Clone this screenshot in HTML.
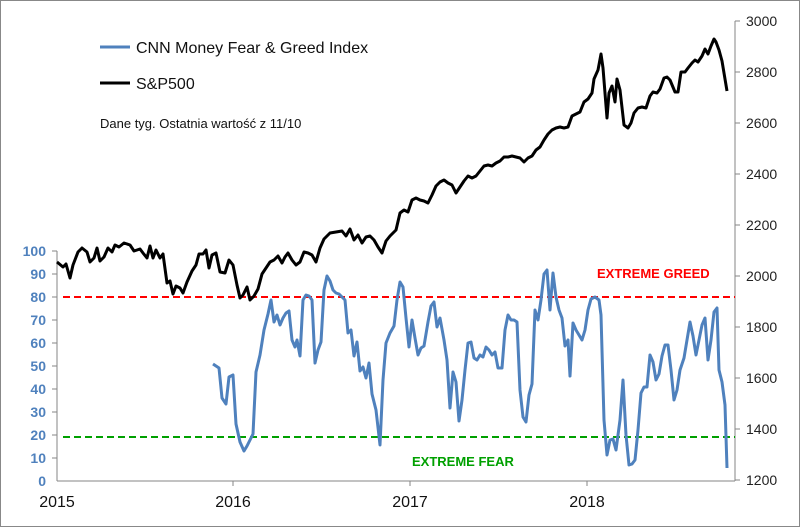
<!DOCTYPE html>
<html><head><meta charset="utf-8"><style>body{margin:0;background:#fff}svg{display:block}text{font-family:"Liberation Sans",sans-serif}</style></head><body>
<svg width="800" height="527" viewBox="0 0 800 527" xmlns="http://www.w3.org/2000/svg">
<rect x="0.5" y="0.5" width="799" height="526" fill="#fff" stroke="#888"/>
<g stroke="#868686" stroke-width="1">
<line x1="57" y1="251" x2="57" y2="481"/><line x1="57" y1="481" x2="735" y2="481"/>
<line x1="735" y1="21" x2="735" y2="481"/>
<g><line x1="52" y1="251" x2="57" y2="251"/><line x1="52" y1="274" x2="57" y2="274"/><line x1="52" y1="297" x2="57" y2="297"/><line x1="52" y1="320" x2="57" y2="320"/><line x1="52" y1="343" x2="57" y2="343"/><line x1="52" y1="366" x2="57" y2="366"/><line x1="52" y1="389" x2="57" y2="389"/><line x1="52" y1="412" x2="57" y2="412"/><line x1="52" y1="435" x2="57" y2="435"/><line x1="52" y1="458" x2="57" y2="458"/></g>
<g><line x1="735" y1="21" x2="740" y2="21"/><line x1="735" y1="72" x2="740" y2="72"/><line x1="735" y1="123" x2="740" y2="123"/><line x1="735" y1="174" x2="740" y2="174"/><line x1="735" y1="225" x2="740" y2="225"/><line x1="735" y1="276" x2="740" y2="276"/><line x1="735" y1="327" x2="740" y2="327"/><line x1="735" y1="378" x2="740" y2="378"/><line x1="735" y1="429" x2="740" y2="429"/><line x1="735" y1="480" x2="740" y2="480"/></g>
<line x1="233" y1="481" x2="233" y2="486"/><line x1="410" y1="481" x2="410" y2="486"/><line x1="587" y1="481" x2="587" y2="486"/>
</g>
<g fill="#4f81bd" font-size="14" font-weight="bold" text-anchor="end">
<text x="46" y="256">100</text><text x="46" y="279">90</text><text x="46" y="302">80</text><text x="46" y="325">70</text><text x="46" y="348">60</text><text x="46" y="371">50</text><text x="46" y="394">40</text><text x="46" y="417">30</text><text x="46" y="440">20</text><text x="46" y="463">10</text><text x="46" y="486">0</text>
</g>
<g fill="#222" font-size="14">
<text x="746" y="26">3000</text><text x="746" y="77">2800</text><text x="746" y="128">2600</text><text x="746" y="179">2400</text><text x="746" y="230">2200</text><text x="746" y="281">2000</text><text x="746" y="332">1800</text><text x="746" y="383">1600</text><text x="746" y="434">1400</text><text x="746" y="485">1200</text>
</g>
<g fill="#111" font-size="16" text-anchor="middle">
<text x="57" y="507">2015</text><text x="233" y="507">2016</text><text x="410" y="507">2017</text><text x="587" y="507">2018</text>
</g>
<line x1="63" y1="297" x2="735" y2="297" stroke="#f00" stroke-width="2" stroke-dasharray="7,4"/>
<line x1="63" y1="437" x2="735" y2="437" stroke="#00a000" stroke-width="2" stroke-dasharray="7,4"/>
<text x="597" y="278" fill="#f00" font-size="13" font-weight="bold">EXTREME GREED</text>
<text x="412" y="466" fill="#00a000" font-size="13" font-weight="bold">EXTREME FEAR</text>
<polyline fill="none" stroke="#000" stroke-width="3" stroke-linejoin="round" points="57,262 63,267 66,264 70,278 73,265 78,252 82,248 87,252 90,262 94,258 97,248 100,261 104,257 108,248 112,252 115,245 119,247 124,243 130,245 134,251 140,249 143,253 147,258 150,246 153,258 156,250 160,258 163,254 167,283 170,281 173,294 176,286 180,288 183,293 187,282 192,271 196,265 199,254 203,254 206,250 209,268 212,255 216,253 220,272 225,273 229,260 233,265 237,285 240,298 243,295 247,287 250,300 254,296 258,289 262,274 266,268 270,262 274,260 278,256 282,263 285,257 288,253 292,260 296,265 300,262 304,252 308,253 312,255 316,262 320,248 324,239 330,233 336,232 342,231 346,236 350,229 354,240 358,235 362,243 366,237 370,236 374,240 378,247 382,253 386,241 390,236 396,230 400,213 404,210 408,212 412,200 416,198 420,200 424,201 428,203 432,195 436,186 440,182 444,180 448,183 452,185 456,193 460,187 464,181 468,176 472,178 476,176 480,171 484,166 488,165 492,166 496,163 500,161 504,157 508,157 512,156 516,157 520,158 524,162 528,158 532,156 536,150 540,147 544,140 548,134 552,130 556,128 560,127 564,128 568,127 572,116 576,114 580,112 584,102 588,99 592,93 594,79 598,70 601,54 603,68 607,118 609,93 612,86 615,102 617,79 620,90 624,125 628,128 631,123 634,113 638,108 642,107 646,108 650,96 653,92 657,93 660,89 664,78 667,77 670,80 675,92 678,92 681,72 685,72 688,68 692,63 695,60 698,62 702,56 705,49 708,54 711,46 714,39 716,42 719,50 722,61 727,91"/>
<polyline fill="none" stroke="#4f81bd" stroke-width="3" stroke-linejoin="round" points="213,364 219,368 222,398 226,404 229,377 233,375 236,424 240,442 244,451 247,446 250,440 253,434 256,372 260,355 264,330 268,314 271,300 274,322 277,315 280,325 283,318 286,313 289,311 292,340 295,347 297,340 300,356 303,300 306,295 309,296 312,300 315,363 318,350 321,342 324,290 327,276 330,281 333,290 336,293 339,294 342,297 345,300 348,333 351,330 354,356 357,342 360,371 363,367 366,378 369,363 372,394 376,410 380,445 383,380 386,343 390,333 394,326 397,300 400,282 403,287 406,318 409,347 412,320 415,338 418,355 421,348 424,346 428,322 431,306 434,302 437,327 440,318 444,340 447,360 450,408 453,372 456,382 459,421 462,400 465,370 468,343 471,342 474,358 477,360 480,355 483,357 486,347 489,350 492,355 495,352 498,368 502,368 505,330 508,315 511,320 514,320 517,322 520,390 523,417 526,422 529,395 532,384 535,310 538,320 541,300 544,274 547,270 550,310 553,273 556,297 559,310 562,318 565,346 568,340 570,376 573,323 576,330 579,335 582,340 585,330 588,310 591,299 595,297 599,300 601,315 604,420 607,455 610,440 613,439 616,450 620,420 623,380 626,435 629,465 632,464 635,460 638,430 641,393 644,387 647,387 650,355 653,362 656,380 659,374 662,356 665,345 668,345 671,370 674,400 677,390 680,370 684,358 687,340 690,322 693,336 696,355 699,340 702,325 705,318 708,360 711,340 714,312 717,308 719,370 722,382 725,405 727,468"/>
<line x1="100" y1="47" x2="130" y2="47" stroke="#4f81bd" stroke-width="3"/>
<text x="136" y="53" font-size="16" fill="#111">CNN Money Fear &amp; Greed Index</text>
<line x1="100" y1="83" x2="130" y2="83" stroke="#000" stroke-width="3"/>
<text x="136" y="89" font-size="16" fill="#111">S&amp;P500</text>
<text x="100" y="128" font-size="13" fill="#111">Dane tyg. Ostatnia wartość z 11/10</text>
</svg>
</body></html>
